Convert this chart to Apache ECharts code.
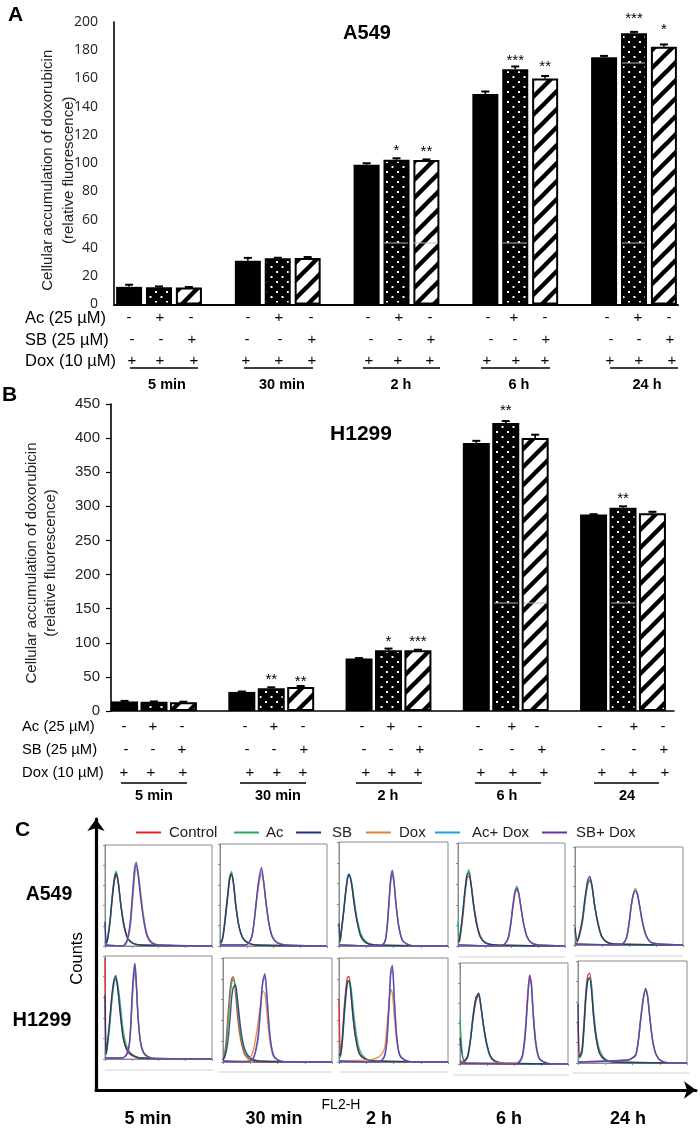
<!DOCTYPE html>
<html><head><meta charset="utf-8">
<style>html,body{margin:0;padding:0;background:#fff}#c{width:700px;height:1128px}</style>
<script src="https://cdn.jsdelivr.net/npm/echarts@6/dist/echarts.min.js"></script>
</head><body><div id="c"></div>
<script>
// ---------- data: bar charts ----------
const groupsA = ['5 min','30 min','2 h','6 h','24 h'];
const groupsB = ['5 min','30 min','2 h','6 h','24'];
const groupsC = ['5 min','30 min','2 h','6 h','24 h'];
const treatments = ['Dox alone','Ac and Dox','SB and Dox'];
const doxA   = [12.5, 31, 99, 149, 175];
const acA    = [12.2, 32.8, 102.5, 166.5, 192];
const sbA    = [12, 33, 102.3, 160, 182.5];
const doxAErr= [1.5, 2, 1, 1.8, 1];
const acAErr = [0.6, 0.3, 1, 2, 1];
const sbAErr = [0.4, 0.6, 0.4, 1.8, 1.6];
const starsAcA = ['','','*','***','***'];
const starsSbA = ['','','**','**','*'];
const doxB   = [14, 28, 77, 393, 288];
const acB    = [13.5, 33.5, 89, 422, 298];
const sbB    = [13, 35, 89, 400, 290];
const doxBErr= [0.8, 0.6, 0.6, 3, 0.5];
const acBErr = [0.5, 1.2, 2.5, 3, 2];
const sbBErr = [0.6, 1.6, 0.8, 5, 2];
const starsAcB = ['','**','*','**','**'];
const starsSbB = ['','**','***','',''];
const rowAc  = ['-','+','-'];
const rowSb  = ['-','-','+'];
const rowDox = ['+','+','+'];
const rowTitles = ['Ac (25 µM)','SB (25 µM)','Dox (10 µM)'];
const histLegend = ['Control','Ac','SB','Dox','Ac+ Dox','SB+ Dox'];
const cellLines = ['A549','H1299'];

// ---------- data: flow histograms (FL2-H decades, counts) ----------
const a5 = {xL:[0,.05,.11,.19,.27,.35,.42,.5,.58,.69,.83,1.02,1.3], xR:[.65,.75,.85,.95,1.04,1.11,1.17,1.24,1.33,1.44,1.57,1.75,2.05],
 c:[4,2,8,24,46,64,70,62,44,24,9,3,1], a:[4,3,10,26,50,68,74,63,43,22,8,3,1], s:[24,3,9,25,48,66,72,62,43,23,9,3,1],
 d:[0,1,6,20,48,70,76,72,54,30,12,4,1], ad:[0,1,7,22,52,74,80,72,50,28,11,3,1], sd:[0,2,8,26,56,78,83,70,48,26,10,3,1]};
const a30 = {xL:[0,.05,.12,.2,.29,.36,.43,.51,.59,.7,.85,1.05,1.35], xR:[.95,1.08,1.2,1.28,1.36,1.45,1.55,1.63,1.72,1.83,1.96,2.15,2.45],
 c:[2,3,10,26,48,64,70,60,40,20,8,3,1], a:[2,4,12,30,52,68,73,61,40,20,8,3,1], s:[5,4,11,28,50,66,71,60,40,21,8,3,1],
 d:[1,3,10,24,42,60,70,62,42,22,9,3,1], ad:[1,3,11,25,44,63,73,63,42,22,8,3,1], sd:[1,3,10,25,45,65,77,64,43,22,9,3,1]};
const a2 = {xL:[0,.04,.09,.17,.25,.32,.37,.46,.55,.66,.8,1.0,1.3], xR:[1.5,1.6,1.7,1.77,1.84,1.9,1.96,2.02,2.1,2.2,2.32,2.48,2.75],
 c:[3,4,14,32,52,66,68,60,42,24,10,3,1], a:[3,5,16,34,54,67,69,62,46,27,12,4,1], s:[22,5,15,33,53,66,69,60,42,24,9,3,1],
 d:[0,1,5,18,42,62,68,60,38,18,6,2,0], ad:[0,1,5,19,44,64,70,61,38,18,6,2,0], sd:[0,1,6,20,45,66,73,62,38,18,6,2,0]};
const a6 = {xL:[0,.05,.1,.18,.26,.34,.41,.49,.58,.69,.83,1.03,1.35], xR:[1.6,1.75,1.88,1.98,2.06,2.13,2.2,2.27,2.35,2.45,2.58,2.75,3.0],
 c:[3,4,12,28,50,66,68,60,42,24,10,3,1], a:[24,5,14,32,54,70,74,60,40,22,9,3,1], s:[5,6,15,33,54,69,71,59,40,22,9,3,1],
 d:[0,2,8,22,38,50,54,50,38,22,9,3,1], ad:[0,2,8,24,42,53,58,52,38,22,9,3,1], sd:[0,2,8,23,40,52,56,51,38,22,9,3,1]};
const a24 = {xL:[0,.08,.17,.28,.37,.47,.55,.63,.72,.84,.98,1.18,1.45], xR:[1.6,1.76,1.9,2.0,2.08,2.16,2.24,2.31,2.39,2.49,2.62,2.8,3.1],
 c:[2,3,10,24,44,62,66,60,42,24,10,3,1], a:[14,4,11,26,46,63,67,60,41,23,9,3,1], s:[18,4,12,28,48,66,70,60,42,23,9,3,1],
 d:[0,1,6,20,38,52,58,52,40,24,10,3,1], ad:[0,1,7,22,40,52,56,52,40,24,10,3,1], sd:[0,1,7,22,40,51,55,52,41,25,11,3,1]};
const h5 = {xL:[0,.04,.09,.17,.25,.33,.4,.48,.57,.68,.82,1.02,1.3], xR:[.65,.8,.9,.96,1.01,1.07,1.12,1.17,1.23,1.32,1.44,1.62,1.9],
 c:[98,5,14,34,58,74,78,68,46,22,8,3,1], a:[6,4,12,30,54,72,78,72,54,28,12,4,1], s:[62,5,15,36,60,76,81,68,44,20,9,4,1],
 d:[1,4,12,28,52,76,86,72,44,18,7,2,0], ad:[1,4,12,30,56,80,91,74,44,18,6,2,0], sd:[1,4,13,32,60,84,93,74,42,17,6,2,0]};
const h30 = {xL:[0,.05,.12,.19,.26,.32,.38,.46,.55,.66,.8,1.0,1.3], xR:[.85,1.0,1.12,1.22,1.3,1.38,1.46,1.54,1.62,1.72,1.84,2.0,2.3],
 c:[2,6,22,48,70,80,82,66,40,20,7,2,0], a:[2,5,16,38,62,76,80,72,48,24,9,3,1], s:[2,4,10,22,42,62,72,74,56,30,12,4,1],
 d:[1,4,12,26,40,56,68,66,44,20,6,2,0], ad:[0,1,4,12,24,50,76,82,60,26,8,2,0], sd:[0,1,4,14,28,54,78,85,60,26,7,2,0]};
const h2 = {xL:[0,.05,.12,.19,.26,.32,.37,.44,.52,.62,.75,.95,1.25], xR:[1.1,1.4,1.58,1.68,1.76,1.84,1.9,1.96,2.03,2.12,2.22,2.4,2.7],
 c:[60,7,24,52,72,82,82,66,42,22,8,3,1], a:[4,5,18,42,64,76,78,72,52,30,12,4,1], s:[8,6,20,46,68,78,78,66,42,22,8,3,1],
 d:[2,4,8,14,34,58,70,66,44,20,8,2,0], ad:[0,0,2,6,20,54,84,90,60,24,7,2,0], sd:[0,0,2,7,22,58,88,93,60,24,7,2,0]};
const h6 = {xL:[0,.15,.28,.39,.48,.59,.69,.77,.86,.97,1.11,1.3,1.6], xR:[2.05,2.2,2.3,2.37,2.44,2.51,2.58,2.64,2.71,2.8,2.92,3.1,3.4],
 c:[3,2,7,24,44,62,68,58,40,22,8,2,0], a:[44,3,8,26,48,66,70,58,39,21,8,2,0], s:[26,3,7,24,46,65,70,58,40,23,9,3,1],
 d:[1,3,8,20,42,70,88,78,48,20,6,2,0], ad:[0,2,6,16,36,64,84,82,52,24,7,2,0], sd:[0,2,7,18,38,68,88,80,50,22,6,2,0]};
const h24 = {xL:[0,.06,.15,.22,.29,.36,.43,.5,.57,.67,.8,1.0,1.3], xR:[1.85,2.0,2.12,2.21,2.3,2.4,2.48,2.55,2.63,2.74,2.87,3.05,3.4],
 c:[40,6,14,40,70,86,88,72,46,24,9,3,1], a:[8,5,10,32,62,80,84,76,52,28,12,4,1], s:[58,6,12,36,66,82,83,70,46,24,9,3,1],
 d:[3,5,8,22,44,64,72,66,46,22,8,2,0], ad:[3,5,7,20,42,63,71,66,46,22,8,2,0], sd:[3,5,8,21,43,64,73,66,46,22,8,2,0]};

// ---------- layout (pixels, separate from data) ----------
const SANS = '"Liberation Sans", Arial, sans-serif';
const histColors = ['#e02424','#1fb055','#1f2f78','#ed7d31','#19a5e0','#7030a0'];
const histPanels = [
 [a5,105,212,845,946],[a30,220,327,844,946],[a2,339,448,842,946],[a6,458,565,843,946],[a24,575,683,847,945],
 [h5,105,212,956,1059],[h30,223,332,958,1062],[h2,339,448,958,1062],[h6,460,568,963,1064],[h24,578,687,961,1063]];
const legendLeft = [131,229,291,361,430,537];
const signsA = {ys:[318,340,361], xs:[
 [[129,160,191],[248,279,311],[368,399,430],[488,514,545],[607,638,669]],
 [[132,161,192],[247,280,312],[371,400,431],[491,515,546],[611,639,670]],
 [[132,160,194],[246,279,312],[369,398,430],[487,516,545],[610,639,672]]]};
const signsB = {ys:[727,750,773], xs:[
 [[124,153,182],[245,274,303],[362,391,420],[478,512,537],[600,634,663]],
 [[126,153,182],[247,274,304],[364,391,420],[481,512,542],[603,634,664]],
 [[124,151,183],[250,277,303],[366,392,418],[481,513,544],[602,633,665]]]};
const lineA = {y:368, x:[[130,198],[244,313],[363,440],[481,550],[610,678]], ly:385, lx:[167,282,401,519,647]};
const lineB = {y:783, x:[[121,187],[240,306],[356,422],[475,541],[594,659]], ly:796, lx:[154,278,388,507,627]};
const labelC = {ly:1119, lx:[148,274,379,509,628]};
const under = [[458,565,957],[575,683,956],[105,213,1070],[218,332,1072],[339,448,1072],[453,569,1075],[573,689,1073]];
const starLift = {acA:[0,0,0,0,6], sbA:[0,0,0,3,8], acB:[0,0,0,4,0], sbB:[0,-3,0,0,0]};
const scanLines = [[384,408,243],[413,438,243],[503,527,243],[622,645,243],[622,645,63],[494,518,603],[524,547,603],[611,635,603]];

// ---------- patterns ----------
function dotTile(){
  const c=document.createElement('canvas'); c.width=11; c.height=10;
  const g=c.getContext('2d'); g.fillStyle='#000'; g.fillRect(0,0,11,10); g.fillStyle='#fff';
  g.fillRect(1,1,2,2); g.fillRect(6.5,6,2,2);
  return {image:c,repeat:'repeat'};
}
function stripeTile(){
  const s=18, c=document.createElement('canvas'); c.width=s; c.height=s;
  const g=c.getContext('2d'); g.fillStyle='#fff'; g.fillRect(0,0,s,s);
  g.strokeStyle='#000'; g.lineWidth=4.4;
  [[-s,s,s,-s],[0,s,s,0],[0,2*s,2*s,0]].forEach(l=>{g.beginPath();g.moveTo(l[0],l[1]);g.lineTo(l[2],l[3]);g.stroke();});
  return {image:c,repeat:'repeat'};
}
const dots=dotTile(), stripes=stripeTile();

// ---------- options ----------
const grid=[], xAxis=[], yAxis=[], series=[], graphic=[];
function txt(t,x,y,size,weight,align,rot,font){
  graphic.push({type:'text',x,y,z:100,rotation:rot||0,silent:true,style:{text:t,fill:'#000',font:(weight||'normal')+' '+size+'px '+(font||SANS),textAlign:align||'center',textVerticalAlign:'middle'}});
}
function seg(x1,y1,x2,y2,w,col){
  graphic.push({type:'line',z:100,silent:true,shape:{x1,y1,x2,y2},style:{stroke:col||'#000',lineWidth:w}});
}
function errRender(params,api){
  const x=api.value(0), y=api.value(1), e=api.value(2);
  const a=api.coord([x,y]), b=api.coord([x,y+e]);
  const st={stroke:'#000',lineWidth:1.6};
  return {type:'group',children:[
    {type:'line',shape:{x1:a[0],y1:a[1],x2:b[0],y2:b[1]},style:st},
    {type:'line',shape:{x1:b[0]-4,y1:b[1],x2:b[0]+4,y2:b[1]},style:{stroke:'#000',lineWidth:2}}]};
}
function barPanel(cfg){
  const g=grid.length;
  grid.push({left:cfg.left,top:cfg.top,width:cfg.width,height:cfg.height});
  xAxis.push({type:'value',gridIndex:g,min:(cfg.left-cfg.c0)/cfg.band,max:(cfg.left+cfg.width-cfg.c0)/cfg.band,
    axisLabel:{show:false},axisTick:{show:false},splitLine:{show:false},axisLine:{show:true,onZero:false,lineStyle:{color:'#000',width:cfg.xw}}});
  yAxis.push({type:'value',gridIndex:g,min:0,max:cfg.max,interval:cfg.interval,
    name:'Cellular accumulation of doxorubicin\n(relative fluorescence)',nameLocation:'middle',nameGap:cfg.nameGap,nameRotate:90,nameMoveOverlap:false,
    nameTextStyle:{fontFamily:SANS,fontSize:cfg.nameSize,lineHeight:cfg.nameLH,color:'#222',padding:cfg.namePad},
    axisLine:{show:true,onZero:false,lineStyle:{color:'#000',width:1.6}},
    axisTick:{show:cfg.ticks,length:5,lineStyle:{color:'#000',width:1.2}},
    axisLabel:{fontFamily:cfg.tickFont,fontSize:cfg.tickSize,color:'#222',margin:cfg.tickMargin},splitLine:{show:false}});
  const step=cfg.barW*(1+cfg.gap/100)/cfg.band;
  cfg.vals.forEach((vals,j)=>{
    series.push({type:'bar',name:treatments[j],xAxisIndex:g,yAxisIndex:g,barWidth:cfg.barW,barGap:cfg.gap+'%',
      itemStyle:j===0?{color:'#000'}:{color:j===1?dots:stripes,borderColor:'#000',borderWidth:2},
      label:{show:true,position:'top',distance:cfg.starGap,fontFamily:SANS,fontSize:15,color:'#000',
        formatter:p=>(cfg.stars[j]?cfg.stars[j][p.dataIndex]:'')},
      data:vals.map((v,i)=>({value:[i,v],label:{distance:cfg.starGap+(cfg.lift[j]?cfg.lift[j][i]:0)}}))});
  });
  cfg.vals.forEach((vals,j)=>{
    series.push({type:'custom',name:treatments[j]+' error',xAxisIndex:g,yAxisIndex:g,renderItem:errRender,encode:{x:0,y:1},z:3,clip:false,
      data:vals.map((v,i)=>[i+(j-1)*step,v,cfg.errs[j][i]])});
  });
}
barPanel({left:114,top:22,width:564,height:282.5,c0:159,band:118.75,max:200,interval:20,xw:2,barW:26,gap:15,ticks:false,
  nameGap:35,nameSize:15,nameLH:21,namePad:[0,14,0,0],tickFont:'"Open Sans"',tickSize:14,tickMargin:16,starGap:1,
  vals:[doxA,acA,sbA],errs:[doxAErr,acAErr,sbAErr],stars:[null,starsAcA,starsSbA],lift:[null,starLift.acA,starLift.sbA]});
barPanel({left:111,top:404,width:563,height:307,c0:154,band:117.25,max:450,interval:50,xw:1.6,barW:27,gap:9,ticks:true,
  nameGap:51,nameSize:15,nameLH:19,namePad:[0,11,0,0],tickFont:SANS,tickSize:15,tickMargin:11,starGap:1,
  vals:[doxB,acB,sbB],errs:[doxBErr,acBErr,sbBErr],stars:[null,starsAcB,starsSbB],lift:[null,starLift.acB,starLift.sbB]});

// Panel C outer arrows
{
  const g=grid.length;
  grid.push({left:96,top:819,width:600,height:271});
  xAxis.push({type:'value',gridIndex:g,min:0,max:1,name:'FL2-H',nameLocation:'middle',nameGap:8,
    nameTextStyle:{fontFamily:SANS,fontSize:14,color:'#000',padding:[0,110,0,0]},
    axisLabel:{show:false},axisTick:{show:false},splitLine:{show:false},
    axisLine:{show:true,symbol:['none','arrow'],symbolSize:[13,12],lineStyle:{color:'#000',width:3.2}}});
  yAxis.push({type:'value',gridIndex:g,min:0,max:1,name:'Counts',nameLocation:'middle',nameGap:10,nameRotate:90,
    nameTextStyle:{fontFamily:SANS,fontSize:16.5,color:'#000',padding:[0,8,0,0]},
    axisLabel:{show:false},axisTick:{show:false},splitLine:{show:false},
    axisLine:{show:true,symbol:['none','arrow'],symbolSize:[13,12],lineStyle:{color:'#000',width:3.2}}});
}
// Panel C histograms
histPanels.forEach(p=>{
  const d=p[0], g=grid.length;
  grid.push({left:p[1],top:p[3],width:p[2]-p[1],height:p[4]-p[3],show:true,borderColor:'#8a8a8a',borderWidth:1,backgroundColor:'#fff'});
  const ax={gridIndex:g,type:'value',axisLabel:{show:false},splitLine:{show:false},
    axisLine:{show:true,lineStyle:{color:'#8a8a8a',width:1}},axisTick:{show:true,length:2,inside:false,lineStyle:{color:'#8a8a8a',width:1}}};
  xAxis.push(Object.assign({},ax,{min:0,max:4,interval:1}));
  yAxis.push(Object.assign({},ax,{min:0,max:100,interval:20}));
  ['c','a','s','d','ad','sd'].forEach((k,i)=>{
    const xs=i<3?d.xL:d.xR;
    const pts=d[k].map((v,n)=>[xs[n],v]);
    if(i>=3) pts.unshift([0,1]);
    pts.push([4,0]);
    series.push({type:'line',name:histLegend[i],xAxisIndex:g,yAxisIndex:g,data:pts,smooth:0.25,showSymbol:false,
      lineStyle:{color:histColors[i],width:1.4,opacity:.85},itemStyle:{color:histColors[i]},z:3+i,emphasis:{disabled:true}});
  });
});
const legend=histLegend.map((n,i)=>({data:[n],left:legendLeft[i],top:820,itemWidth:25,itemHeight:2,icon:'rect',itemGap:0,selectedMode:false,
  textStyle:{fontFamily:SANS,fontSize:15,color:'#222',padding:[0,0,0,[3,2,6,3,7,4][i]]}}));

// Text
txt('A',8,15,21,'bold','left'); txt('B',2,395,21,'bold','left'); txt('C',15,830,21,'bold','left');
txt('A549',367,33,20,'bold'); txt('H1299',361,434,21,'bold');
[rowAc,rowSb,rowDox].forEach((row,r)=>{
  txt(rowTitles[r],25,signsA.ys[r],16.5,'normal','left');
  txt(rowTitles[r],22,signsB.ys[r],14.8,'normal','left');
  [signsA,signsB].forEach(S=>S.xs[r].forEach(gx=>gx.forEach((x,j)=>txt(row[j],x,S.ys[r],15))));
});
lineA.x.forEach((s,i)=>{seg(s[0],lineA.y,s[1],lineA.y,1.6);txt(groupsA[i],lineA.lx[i],lineA.ly,14.5,'bold');});
lineB.x.forEach((s,i)=>{seg(s[0],lineB.y,s[1],lineB.y,1.6);txt(groupsB[i],lineB.lx[i],lineB.ly,14.5,'bold');});
groupsC.forEach((t,i)=>txt(t,labelC.lx[i],labelC.ly,18,'bold'));
txt(cellLines[0],49,895,19.5,'bold'); txt(cellLines[1],42,1020,20,'bold');
under.forEach(u=>seg(u[0],u[2],u[1],u[2],1,'#cfcfcf'));
scanLines.forEach(u=>seg(u[0],u[2],u[1],u[2],1,'#b5b5b5'));

const chart=echarts.init(document.getElementById('c'),null,{renderer:'canvas'});
chart.setOption({animation:false,backgroundColor:'#fff',grid,xAxis,yAxis,series,legend,graphic,tooltip:{show:false}});
</script></body></html>
